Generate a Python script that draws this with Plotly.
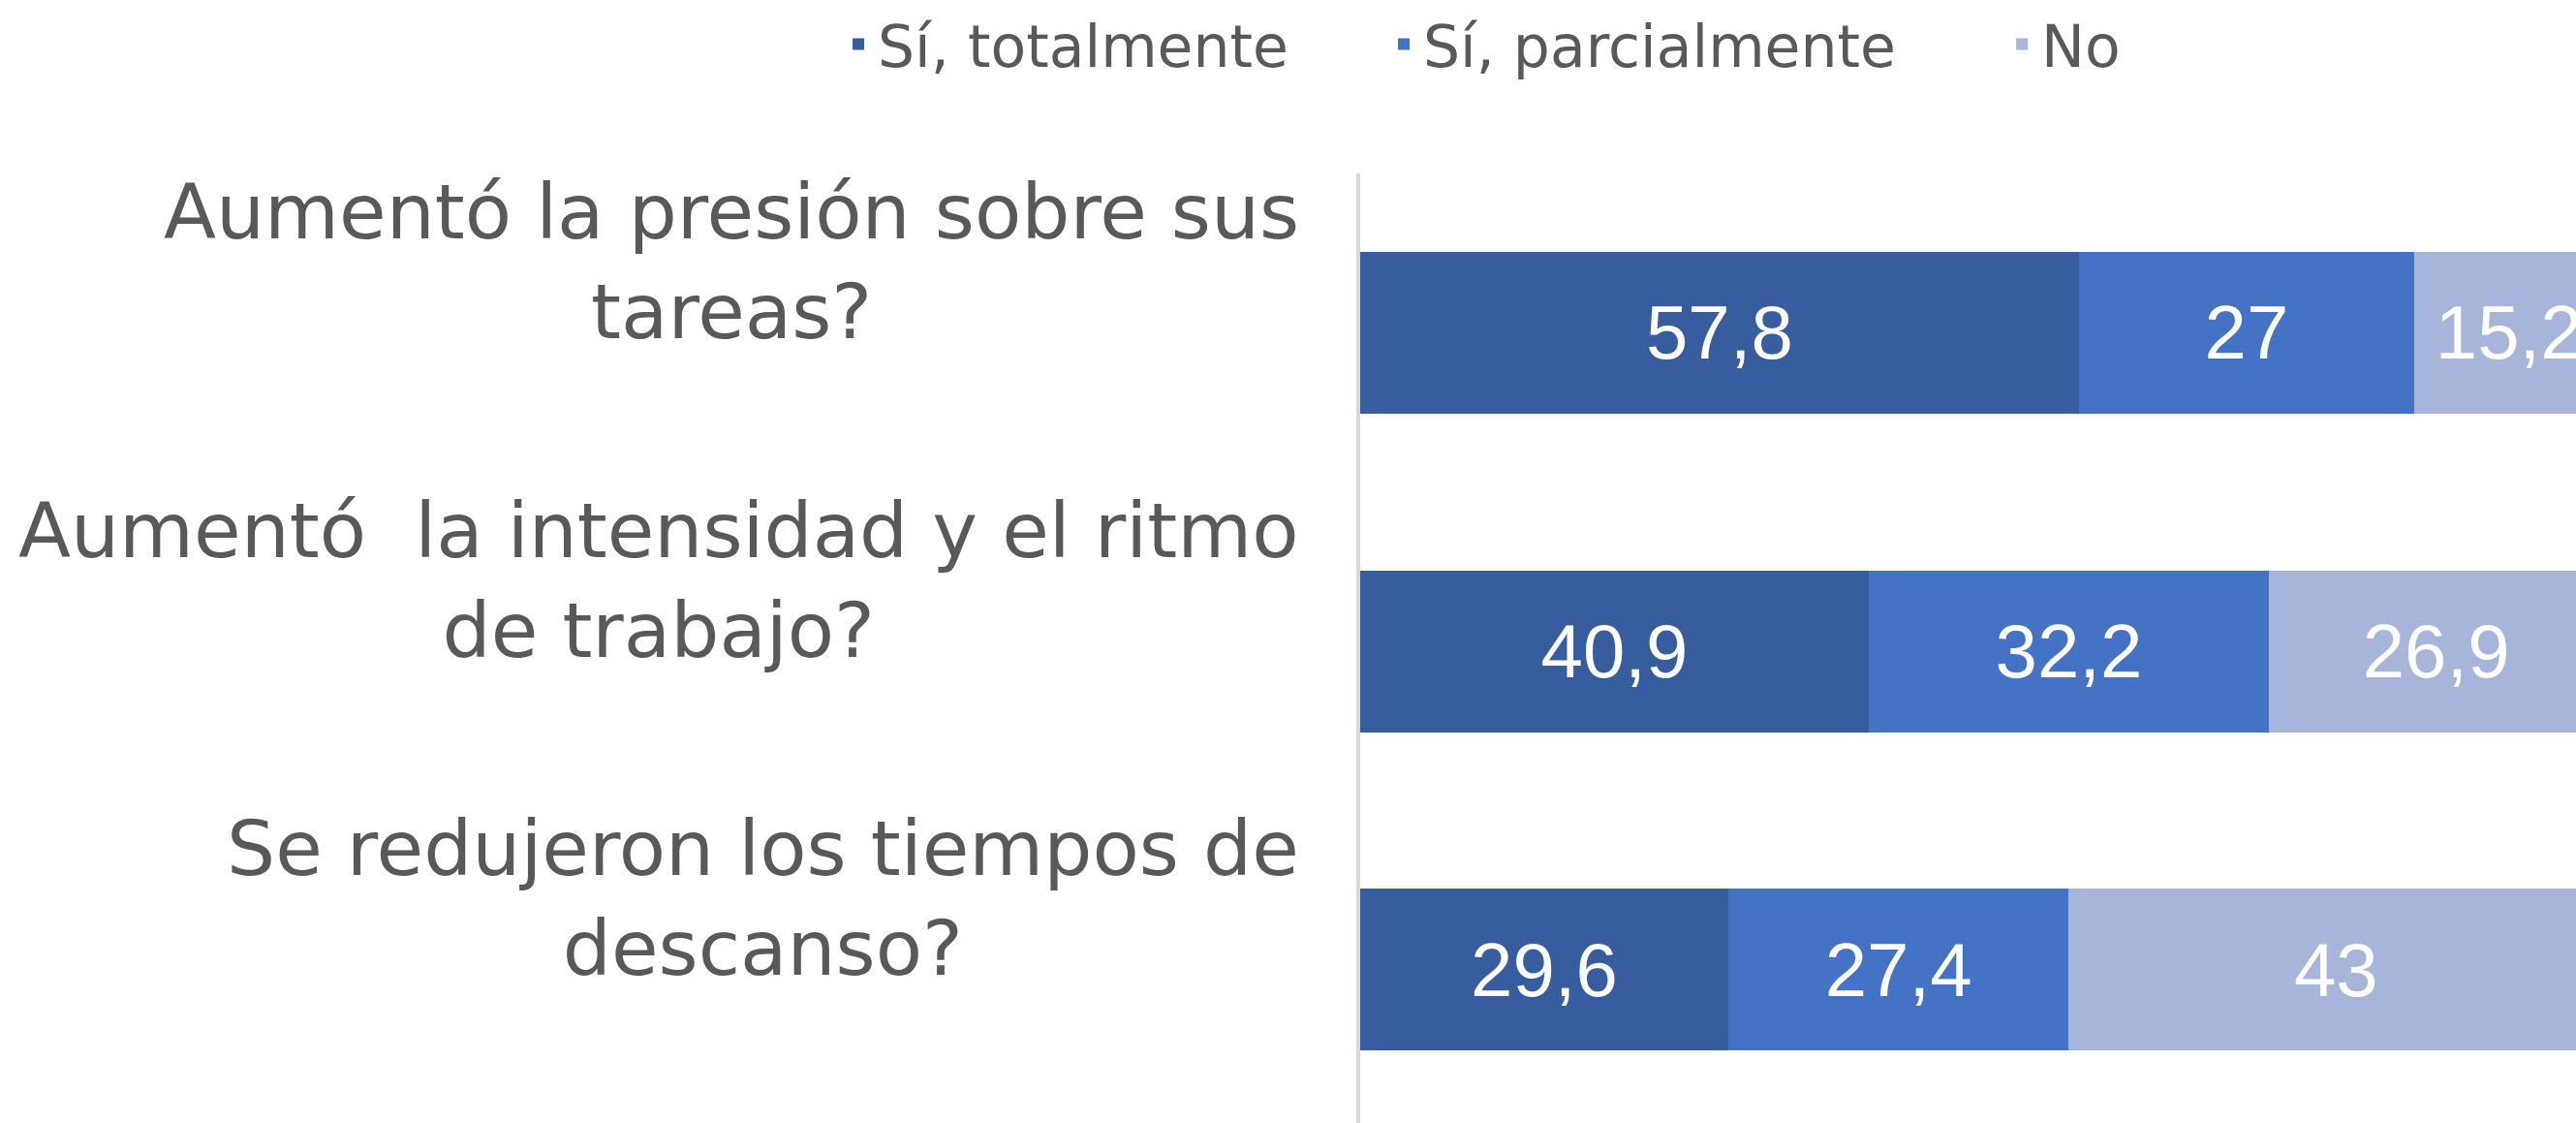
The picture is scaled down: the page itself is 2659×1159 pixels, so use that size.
import plotly.graph_objects as go

categories = [
    "Aumentó la presión sobre sus<br>tareas?",
    "Aumentó  la intensidad y el ritmo<br>de trabajo?",
    "Se redujeron los tiempos de<br>descanso?",
]
series_names = ["Sí, totalmente", "Sí, parcialmente", "No"]
totalmente = [57.8, 40.9, 29.6]
parcialmente = [27, 32.2, 27.4]
no_vals = [15.2, 26.9, 43]

colors = ["#375D9F", "#4472C4", "#A7B5DA"]
legend_ids = ["legend", "legend2", "legend3"]
legend_x = [0.3257, 0.5374, 0.7774]

cat_ids = ["c0", "c1", "c2"]

fig = go.Figure()
for name, vals, col, lid in zip(series_names, [totalmente, parcialmente, no_vals], colors, legend_ids):
    fig.add_trace(go.Bar(
        name=name,
        y=cat_ids,
        x=vals,
        orientation="h",
        marker=dict(color=col, line=dict(width=0)),
        texttemplate="%{x}",
        textposition="inside",
        insidetextanchor="middle",
        textfont=dict(family="Liberation Sans, Arial, sans-serif", size=78, color="white"),
        legend=lid,
        hoverinfo="skip",
    ))

for cid, label in zip(cat_ids, categories):
    fig.add_annotation(
        x=-0.049, xref="paper", xanchor="right",
        y=cid, yref="y", yanchor="middle", yshift=73,
        text=label, showarrow=False, align="center",
        font=dict(family="DejaVu Sans, sans-serif", size=79, color="#595959"),
    )

legend_style = dict(
    orientation="h",
    xref="container", yref="container",
    xanchor="left",
    y=1.0, yanchor="top",
    font=dict(family="DejaVu Sans, sans-serif", size=60, color="#595959"),
    bgcolor="rgba(0,0,0,0)",
)

fig.update_layout(
    width=2659, height=1159,
    margin=dict(l=1404, r=0, t=179, b=0, autoexpand=False),
    barmode="stack",
    bargap=0.492,
    separators=",.",
    plot_bgcolor="white",
    paper_bgcolor="white",
    showlegend=True,
    legend=dict(x=legend_x[0], **legend_style),
    legend2=dict(x=legend_x[1], **legend_style),
    legend3=dict(x=legend_x[2], **legend_style),
    xaxis=dict(range=[0, 97.8], showgrid=False, zeroline=False, showticklabels=False,
               ticks="", showline=False, fixedrange=True),
    yaxis=dict(categoryorder="array", categoryarray=cat_ids, range=[2.481, -0.5],
               showgrid=False, zeroline=False, showticklabels=False, ticks="",
               showline=True, linecolor="#D9D9D9", linewidth=4, fixedrange=True),
)

fig.write_html(
    "out.html",
    config={"displayModeBar": False},
    post_script="document.body.style.margin='0';document.body.style.overflow='hidden';",
)
